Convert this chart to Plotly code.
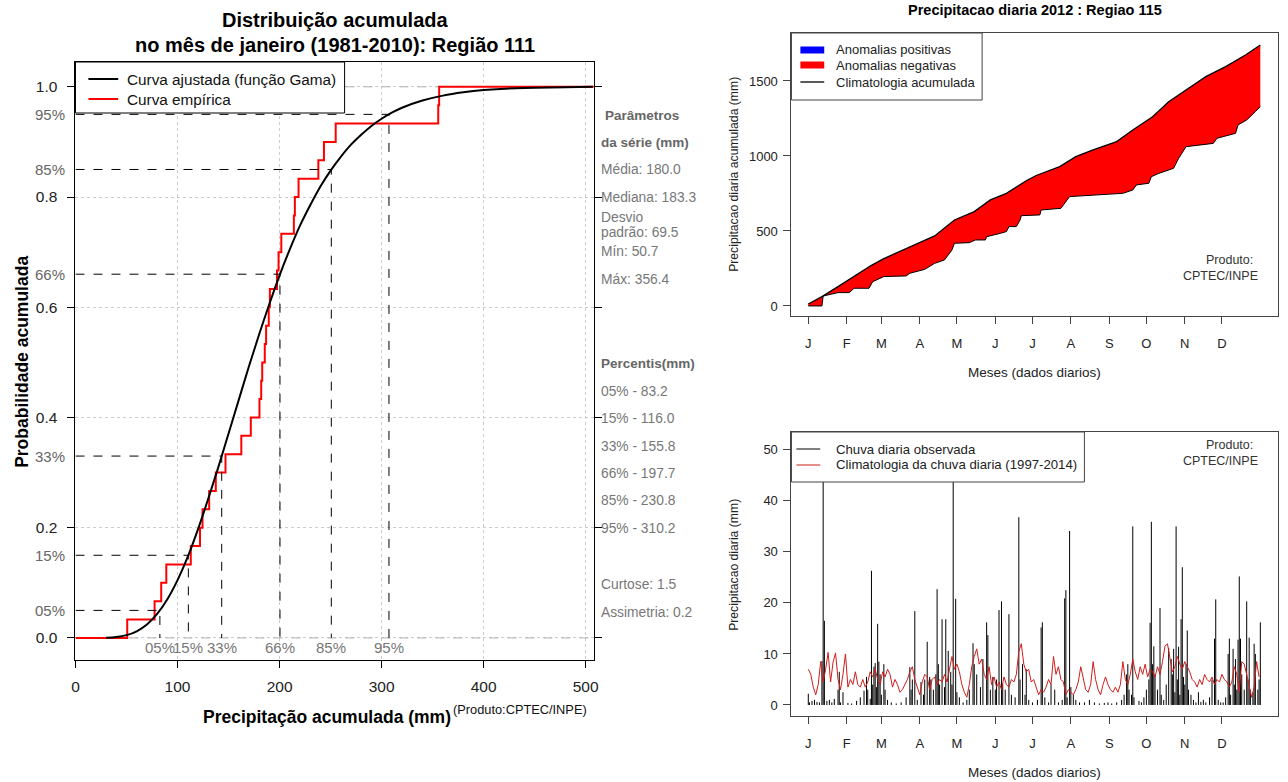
import numpy as np
import plotly.graph_objects as go

W, H = 1288, 782
def PX(x): return x / W
def PY(y): return 1 - y / H

FONT = "Liberation Sans, Arial, Helvetica, sans-serif"

# ---------------- Left chart data ----------------
sample_sorted = [50.7, 77.5, 84, 89, 113, 122, 124.5, 131, 137.5, 147, 162.5, 171.8,
                 180.3, 182, 183, 185.5, 186.8, 189.4, 190.5, 197.5, 199, 201.7, 214,
                 215, 218.6, 238, 243.5, 255, 355.5, 356.4]
gamma_x = [30, 40, 50, 60, 70, 80, 90, 100, 110, 120, 130, 140, 150, 160, 170, 180, 190,
           200, 210, 220, 230, 240, 250, 260, 270, 280, 290, 300, 310, 320, 340, 360, 380,
           400, 440, 480, 507]
gamma_y = [0.0004, 0.0017, 0.0051, 0.0121, 0.0244, 0.0435, 0.0702, 0.105, 0.147, 0.197,
           0.252, 0.310, 0.371, 0.432, 0.493, 0.551, 0.606, 0.658, 0.705, 0.748, 0.785,
           0.819, 0.848, 0.873, 0.895, 0.913, 0.929, 0.942, 0.953, 0.962, 0.975, 0.984,
           0.990, 0.994, 0.998, 0.999, 1.0]
pct_levels = [0.05, 0.15, 0.33, 0.66, 0.85, 0.95]
pct_labels = ["05%", "15%", "33%", "66%", "85%", "95%"]
pct_x = [82.7, 110.6, 143.3, 200.4, 250.7, 307.2]
x_ticks_left = [0, 100, 200, 300, 400, 500]
y_ticks_left = [0.0, 0.2, 0.4, 0.6, 0.8, 1.0]
y_ticktext_left = ["0.0", "0.2", "0.4", "0.6", "0.8", "1.0"]

param_texts = ["Média: 180.0", "Mediana: 183.3", "Desvio", "padrão: 69.5", "Mín: 50.7",
               "Máx: 356.4", "05% - 83.2", "15% - 116.0", "33% - 155.8", "66% - 197.7",
               "85% - 230.8", "95% - 310.2", "Curtose: 1.5", "Assimetria: 0.2"]
param_rows = [169, 197, 217, 232, 251, 279, 391, 418, 446, 473, 500, 528, 584, 612]

# ---------------- Right-top data (accumulated) ----------------
clim_days = [1, 12, 25, 38, 52, 62, 78, 92, 103, 119, 135, 148, 161, 177, 185, 204, 217,
             231, 250, 263, 279, 292, 306, 322, 338, 354, 366]
clim_acc = [13, 62, 129, 196, 271, 316, 373, 424, 467, 573, 629, 707, 751, 835, 870, 929,
            996, 1040, 1096, 1173, 1262, 1362, 1440, 1529, 1596, 1673, 1740]
obs_days = [1, 12, 13, 20, 25, 34, 38, 50, 53, 62, 80, 83, 95, 103, 111, 117, 119, 131, 136,
            144, 145, 156, 161, 163, 169, 172, 173, 188, 189, 205, 212, 255, 263, 266, 276,
            278, 284, 296, 300, 306, 328, 331, 346, 348, 355, 362, 366]
obs_acc = [0, 0, 66, 78, 89, 89, 118, 118, 162, 196, 200, 218, 244, 284, 307, 373, 418, 422,
           440, 440, 462, 484, 496, 529, 529, 573, 602, 607, 640, 651, 729, 751, 773, 807,
           818, 862, 884, 918, 984, 1062, 1084, 1118, 1151, 1207, 1240, 1296, 1329]

month_ticks = [1, 32, 60, 91, 121, 152, 182, 213, 244, 274, 305, 335]
month_labels = ["J", "F", "M", "A", "M", "J", "J", "A", "S", "O", "N", "D"]

# ---------------- Right-bottom data (daily) ----------------
rain_days = [1, 2, 4, 6, 8, 10, 12, 13, 14, 16, 18, 20, 22, 25, 26, 27, 29,
             33, 36, 40, 43, 46, 48, 49, 51, 52, 53, 54, 55, 56, 57, 58, 59,
             60, 62, 63, 65, 68, 72, 76, 80, 83, 84, 85, 87, 89, 92, 94,
             95, 97, 99, 100, 102, 104, 105, 106, 107, 109, 111, 112, 114, 116, 117, 118, 120, 121,
             123, 126, 129, 131, 134, 135, 137, 140, 142, 145, 146, 148, 150, 152,
             153, 155, 157, 158, 160, 163, 165, 168, 171, 172, 174, 176, 177, 179,
             182, 186, 189, 190, 192, 195, 197, 200, 203, 206, 208, 209, 210, 212, 213,
             215, 217, 220, 224, 228, 232, 236, 240, 243,
             246, 250, 254, 256, 258, 259, 260, 262, 263, 264, 268, 270, 272, 274,
             276, 277, 278, 279, 280, 281, 283, 285, 286, 288, 290, 292, 294, 295, 296, 297,
             298, 299, 300, 301, 302, 303, 304, 305,
             306, 307, 308, 310, 312, 314, 316, 318, 320, 322, 325, 327, 329, 330, 332, 334,
             336, 338, 340, 341, 342, 344, 345, 346, 347, 348, 349, 350, 351, 353, 355, 356,
             357, 358, 360, 361, 362, 364, 365, 366]
rain_vals = [2.2, 0.5, 0.8, 1.0, 0.6, 0.5, 8.6, 51.5, 16.5, 0.8, 1.0, 0.5, 1.2, 3.0, 6.5, 0.5, 2.5,
             0.4, 0.3, 0.8, 1.5, 2.8, 5.5, 3.0, 1.2, 26.3, 4.0, 7.5, 8.2, 3.5, 15.9, 8.5, 6.0,
             2.0, 8.0, 3.0, 1.0, 0.5, 0.3, 0.5, 1.5, 7.4, 3.0, 5.0, 18.4, 1.0, 4.5, 2.0,
             5.0, 12.4, 5.5, 5.0, 3.0, 6.0, 22.7, 8.0, 4.0, 16.8, 3.5, 16.8, 10.6, 6.5, 4.0, 47.0, 20.8, 2.5,
             1.5, 0.5, 1.0, 3.0, 12.1, 8.0, 6.0, 3.5, 9.0, 16.2, 13.7, 3.0, 5.5, 3.0,
             5.0, 18.6, 20.3, 4.0, 3.0, 17.8, 2.0, 1.5, 36.8, 5.0, 8.0, 2.0, 7.0, 1.0,
             0.5, 1.0, 15.2, 16.2, 1.5, 0.5, 4.0, 3.0, 0.5, 1.0, 20.9, 22.5, 1.5, 34.1, 3.5,
             2.0, 1.0, 0.5, 0.5, 1.0, 0.5, 0.3, 0.4, 0.5,
             0.3, 0.5, 1.0, 2.0, 6.0, 8.0, 3.0, 2.0, 35.0, 1.5, 0.8, 0.5, 1.5, 3.0,
             5.0, 16.1, 35.9, 8.0, 11.5, 6.0, 3.0, 19.0, 2.0, 1.0, 4.0, 11.2, 9.0, 6.0, 11.0, 2.5,
             35.0, 5.0, 11.4, 2.0, 16.8, 27.0, 5.5, 4.0,
             8.0, 14.6, 3.0, 2.0, 1.0, 0.5, 2.5, 0.6, 1.0, 0.5, 1.5, 5.0, 13.0, 20.7, 1.0, 0.5,
             0.5, 1.5, 10.0, 13.0, 2.0, 11.0, 4.0, 9.0, 3.0, 12.8, 25.2, 13.0, 6.0, 3.0, 20.3, 5.0,
             13.2, 3.0, 2.5, 12.0, 10.0, 3.0, 5.0, 16.2]
clim_daily_days = list(range(1, 366, 2))
clim_daily = [7.0, 6.0, 3.5, 2.0, 4.0, 8.5, 4.5, 7.0, 10.3, 4.5, 8.4, 10.2, 5.0, 3.0, 6.0, 10.0,
              3.5, 5.0, 4.0, 6.5, 4.0, 3.5, 5.0, 3.5, 4.5, 6.5, 5.5, 7.0, 5.0, 4.0,
              6.5, 5.5, 7.0, 6.0, 3.5, 5.0, 4.0, 2.5, 3.0, 4.0, 5.0, 6.5, 7.5, 5.0, 3.5, 2.0,
              4.5, 6.0, 5.5, 3.0, 5.0, 5.5, 4.0, 5.0, 4.5, 6.0, 4.5, 7.0, 9.5, 7.0, 8.0,
              6.5, 4.0, 2.5, 1.5, 4.0, 7.5, 9.5, 11.0, 8.0, 9.0, 6.0, 5.0, 7.5, 4.0, 5.5,
              3.5, 4.5, 3.0, 5.5, 4.0, 3.5, 5.0, 4.5, 6.0, 10.5, 12.0, 8.0, 6.5, 7.0, 4.5,
              5.0, 3.5, 2.0, 3.0, 2.5, 3.5, 5.0, 4.0, 9.5, 6.0, 7.5, 5.0, 4.5, 2.0, 3.0, 2.5,
              2.0, 3.0, 4.5, 7.5, 5.0, 3.0, 2.5, 4.0, 8.5, 5.0, 3.0, 2.0, 4.0, 5.5, 4.0,
              3.0, 2.5, 3.5, 2.5, 4.0, 8.5, 5.0, 4.0, 6.0, 9.0, 6.5, 5.0, 7.5, 6.0, 8.0,
              5.5, 7.0, 6.5, 5.5, 7.5, 6.0, 8.5, 11.5, 12.0, 9.0, 6.5, 7.5, 9.5, 8.0, 7.0, 8.5,
              7.5, 6.5, 5.0, 4.5, 3.5, 5.0, 4.0, 6.0, 5.0, 4.5, 5.5, 4.0, 5.0, 4.5, 6.0,
              5.0, 4.5, 3.5, 4.5, 7.5, 6.0, 2.5, 8.5, 8.0, 6.0, 4.0, 1.5, 3.5, 8.5, 5.5]

# ---------------- Build figure ----------------
fig = go.Figure()

# Left: gray dashed 0/1 lines
fig.add_trace(go.Scatter(x=[0, 508, None, 0, 508], y=[0, 0, None, 1, 1], mode="lines",
                         line=dict(color="#b3b3b3", width=1, dash="dash"),
                         xaxis="x", yaxis="y", hoverinfo="skip"))
# ECDF
n = len(sample_sorted)
ecdf_x = [0] + sample_sorted + [508]
ecdf_y = [0] + list(np.arange(1, n + 1) / n) + [1]
fig.add_trace(go.Scatter(x=ecdf_x, y=ecdf_y, mode="lines", line_shape="hv",
                         line=dict(color="#ff0000", width=2), xaxis="x", yaxis="y"))
# Gamma fit
fig.add_trace(go.Scatter(x=gamma_x, y=gamma_y, mode="lines", line_shape="spline",
                         line=dict(color="#000000", width=2), xaxis="x", yaxis="y"))
# Percentile dashed guides
gx, gy = [], []
for p, q in zip(pct_levels, pct_x):
    gx += [0, q, q, None]
    gy += [p, p, 0, None]
fig.add_trace(go.Scatter(x=gx, y=gy, mode="lines",
                         line=dict(color="#000000", width=1, dash="dash"),
                         xaxis="x", yaxis="y", hoverinfo="skip"))

# Right-top: accumulated
fig.add_trace(go.Scatter(x=obs_days, y=obs_acc, mode="lines",
                         line=dict(color="#000000", width=1), xaxis="x2", yaxis="y2"))
fig.add_trace(go.Scatter(x=clim_days, y=clim_acc, mode="lines", fill="tonexty",
                         fillcolor="#ff0000", line=dict(color="#000000", width=1.3),
                         xaxis="x2", yaxis="y2"))

# Right-bottom: daily
sx, sy = [], []
for d, v in zip(rain_days, rain_vals):
    sx += [d, d, None]
    sy += [0, v, None]
fig.add_trace(go.Scatter(x=sx, y=sy, mode="lines", line=dict(color="#000000", width=1),
                         xaxis="x3", yaxis="y3"))
fig.add_trace(go.Scatter(x=clim_daily_days, y=clim_daily, mode="lines",
                         line=dict(color="rgb(205,30,30)", width=1), xaxis="x3", yaxis="y3"))

shapes = []
annotations = []

def txt(text, x, y, size, color="#000", xanchor="center", yanchor="middle", bold=False,
        angle=0):
    annotations.append(dict(text=("<b>%s</b>" % text) if bold else text,
                            x=PX(x), y=PY(y), xref="paper", yref="paper",
                            xanchor=xanchor, yanchor=yanchor, showarrow=False,
                            textangle=angle, font=dict(family=FONT, size=size, color=color)))

# Left legend
shapes.append(dict(type="rect", xref="paper", yref="paper", x0=PX(72), x1=PX(343),
                   y0=PY(113), y1=PY(62), fillcolor="white", line=dict(color="#000", width=1)))
shapes.append(dict(type="line", xref="paper", yref="paper", x0=PX(85), x1=PX(115),
                   y0=PY(79), y1=PY(79), line=dict(color="#000", width=2)))
shapes.append(dict(type="line", xref="paper", yref="paper", x0=PX(85), x1=PX(115),
                   y0=PY(99), y1=PY(99), line=dict(color="#ff0000", width=2)))
txt("Curva ajustada (função Gama)", 122, 79, 15.3, "#111", xanchor="left")
txt("Curva empírica", 122, 99, 15.3, "#111", xanchor="left")

# Left titles
txt("Distribuição acumulada", 333, 20, 20, bold=True)
txt("no mês de janeiro (1981-2010): Região 111", 333, 45, 20, bold=True)
txt("Probabilidade acumulada", 18, 362, 17.5, bold=True, angle=-90)
txt("Precipitação acumulada (mm)", 325, 717, 17.5, bold=True)
txt("(Produto:CPTEC/INPE)", 450, 709, 12.8, "#111", xanchor="left")

# Percent labels on left axis and bottom
for p, lab in zip(pct_levels, pct_labels):
    annotations.append(dict(text=lab, x=PX(63), y=p, xref="paper", yref="y",
                            xanchor="right", yanchor="middle", showarrow=False,
                            font=dict(family=FONT, size=15, color="#666")))
for q, lab in zip(pct_x, pct_labels):
    annotations.append(dict(text=lab, x=q, y=0, xref="x", yref="y", xanchor="center",
                            yanchor="top", yshift=1, showarrow=False,
                            font=dict(family=FONT, size=15, color="#777")))

# Parameter panel
txt("Parâmetros", 603, 115, 13.5, "#666", xanchor="left", bold=True)
txt("da série (mm)", 599, 142, 13.5, "#666", xanchor="left", bold=True)
txt("Percentis(mm)", 599, 363, 13.5, "#666", xanchor="left", bold=True)
for t, r in zip(param_texts, param_rows):
    txt(t, 599, r, 13.8, "#777", xanchor="left")

# Right-top texts
txt("Precipitacao diaria 2012 : Regiao 115", 1038, 10, 14.5, bold=True)
txt("Precipitacao diaria acumulada (mm)", 735, 174, 12.2, "#222", angle=-90)
txt("Meses (dados diarios)", 1038, 373, 13.5, "#222")
txt("Produto:", 1260, 260, 12.5, "#333", xanchor="right")
txt("CPTEC/INPE", 1265, 276, 12.5, "#333", xanchor="right")
shapes.append(dict(type="rect", xref="paper", yref="paper", x0=PX(793), x1=PX(985),
                   y0=PY(100), y1=PY(33), fillcolor="white", line=dict(color="#444", width=1)))
for yy, col, wd in [(50, "#0000ff", 7), (65, "#ff0000", 7), (82, "#000000", 1.3)]:
    shapes.append(dict(type="line", xref="paper", yref="paper", x0=PX(802), x1=PX(826),
                       y0=PY(yy), y1=PY(yy), line=dict(color=col, width=wd)))
txt("Anomalias positivas", 836, 50, 13, "#222", xanchor="left")
txt("Anomalias negativas", 836, 65, 13, "#222", xanchor="left")
txt("Climatologia acumulada", 836, 82, 13, "#222", xanchor="left")

# Right-bottom texts
txt("Precipitacao diaria (mm)", 735, 565, 12.2, "#222", angle=-90)
txt("Meses (dados diarios)", 1038, 772, 13.5, "#222")
txt("Produto:", 1260, 445, 12.5, "#333", xanchor="right")
txt("CPTEC/INPE", 1265, 461, 12.5, "#333", xanchor="right")
shapes.append(dict(type="rect", xref="paper", yref="paper", x0=PX(793), x1=PX(1088),
                   y0=PY(482), y1=PY(432), fillcolor="white", line=dict(color="#444", width=1)))
shapes.append(dict(type="line", xref="paper", yref="paper", x0=PX(798), x1=PX(822),
                   y0=PY(449), y1=PY(449), line=dict(color="#000", width=1)))
shapes.append(dict(type="line", xref="paper", yref="paper", x0=PX(798), x1=PX(822),
                   y0=PY(465), y1=PY(465), line=dict(color="rgb(205,30,30)", width=1)))
txt("Chuva diaria observada", 836, 449, 13.2, "#222", xanchor="left")
txt("Climatologia da chuva diaria (1997-2014)", 836, 465, 13.2, "#222", xanchor="left")

common_right_x = dict(range=[-12.6, 380.3], tickvals=month_ticks, ticktext=month_labels,
                      ticks="outside", ticklen=7, tickcolor="#444", showline=True,
                      linecolor="#444", mirror=True, showgrid=False, zeroline=False,
                      tickfont=dict(family=FONT, size=13, color="#222"),
                      ticklabelstandoff=8, domain=[PX(793), PX(1283)])

fig.update_layout(
    width=W, height=H, margin=dict(l=0, r=0, t=0, b=0),
    paper_bgcolor="white", plot_bgcolor="white", showlegend=False,
    xaxis=dict(domain=[PX(72), PX(594)], range=[0, 508], tickvals=x_ticks_left,
               ticks="outside", ticklen=7, tickcolor="#000", showline=True,
               linecolor="#000", mirror=True, showgrid=True, gridcolor="#cccccc",
               griddash="dot", zeroline=False, anchor="y",
               tickfont=dict(family=FONT, size=15.5, color="#222"), ticklabelstandoff=5),
    yaxis=dict(domain=[PY(660), PY(62)], range=[-0.04, 1.045], tickvals=y_ticks_left,
               ticktext=y_ticktext_left, ticks="outside", ticklen=7, tickcolor="#000",
               showline=True, linecolor="#000", mirror="ticks", showgrid=True,
               gridcolor="#cccccc", griddash="dot", zeroline=False, anchor="x",
               tickfont=dict(family=FONT, size=15.5, color="#222"), ticklabelstandoff=7),
    xaxis2=dict(anchor="y2", **common_right_x),
    yaxis2=dict(domain=[PY(316), PY(33)], range=[-67, 1820], tickvals=[0, 500, 1000, 1500],
                ticks="outside", ticklen=7, tickcolor="#444", showline=True,
                linecolor="#444", mirror=True, showgrid=False, zeroline=False, anchor="x2",
                tickfont=dict(family=FONT, size=13, color="#222"), ticklabelstandoff=3),
    xaxis3=dict(anchor="y3", **common_right_x),
    yaxis3=dict(domain=[PY(716), PY(432)], range=[-2.16, 53.5],
                tickvals=[0, 10, 20, 30, 40, 50], ticks="outside", ticklen=7,
                tickcolor="#444", showline=True, linecolor="#444", mirror=True,
                showgrid=False, zeroline=False, anchor="x3",
                tickfont=dict(family=FONT, size=13, color="#222"), ticklabelstandoff=3),
    shapes=shapes, annotations=annotations,
)

fig.write_html("out.html", config={"displayModeBar": False},
               post_script="document.body.style.margin='0px';"
                           "document.body.style.overflow='hidden';")
